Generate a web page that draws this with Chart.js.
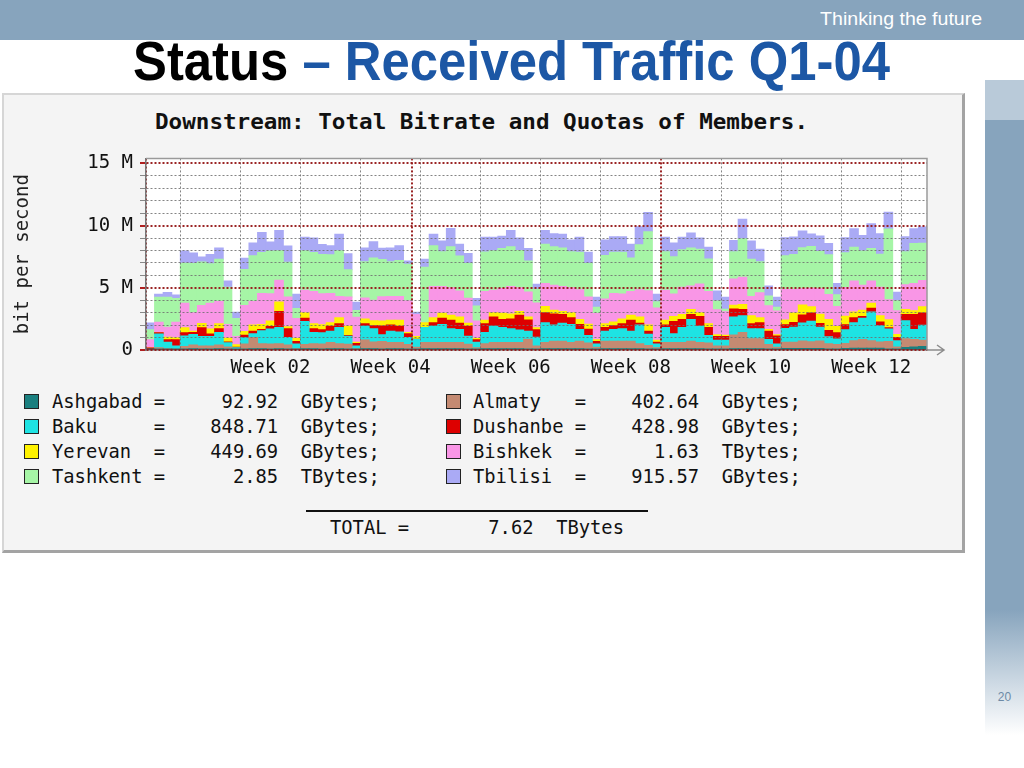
<!DOCTYPE html>
<html>
<head>
<meta charset="utf-8">
<title>Status – Received Traffic Q1-04</title>
<script src="https://cdn.jsdelivr.net/npm/chart.js@4/dist/chart.umd.min.js"></script>
<style>
  body { margin: 0; width: 1024px; height: 768px; background: #fff; position: relative; overflow: hidden; font-family: "Liberation Sans", Arial, sans-serif; }
  #topband { position: absolute; left: 0; top: 0; width: 1024px; height: 40px; background: #87a4bd; }
  #tagline { position: absolute; right: 42px; top: 9px; color: #fff; font-size: 18px; white-space: nowrap; transform-origin: right center; font-family: "Liberation Sans Narrow", "Liberation Sans", Arial, sans-serif; }
  #title { position: absolute; left: 133px; top: 31px; font-size: 55px; font-weight: bold; white-space: nowrap; transform-origin: left top; color: #1c57a5; line-height: 60px;
    font-family: "Liberation Sans Narrow", "Liberation Sans", Arial, sans-serif; }
  #title span { color: #000; }
  #sideband { position: absolute; left: 985px; top: 80px; width: 39px; height: 660px;
    background: linear-gradient(to bottom, #b9cad9 0, #b9cad9 40px, #87a4bd 40px, #87a4bd 530px, #ffffff 655px); }
  #pagenum { position: absolute; left: 985px; width: 39px; top: 690px; text-align: center; font-size: 12px; color: #6d8aa6; }
  #panel { position: absolute; left: 2px; top: 93px; width: 958px; height: 455px; background: #f4f4f4;
    border-top: 2px solid #d6d6d6; border-left: 2px solid #d6d6d6; border-right: 3px solid #a3a3a3; border-bottom: 3px solid #a3a3a3; }
  #charttitle { position: absolute; left: 155px; top: 110px; font: bold 21px "DejaVu Sans Mono", monospace; line-height: 24px; white-space: pre; color: #111; transform-origin: left top; }
  #traffic { position: absolute; left: 0; top: 140px; }
  .sw { position: absolute; width: 13px; height: 13px; border: 1.5px solid #222; }
  .lg { position: absolute; font: 18.8px "DejaVu Sans Mono", monospace; line-height: 22px; white-space: pre; color: #111; }
  #totalline { position: absolute; left: 306px; top: 510px; width: 342px; height: 2px; background: #111; }
</style>
</head>
<body>
<div id="topband"></div>
<div id="tagline">Thinking the future</div>
<div id="title"><span>Status</span> – Received Traffic Q1-04</div>
<div id="sideband"></div>
<div id="pagenum">20</div>
<div id="panel"></div>
<div id="charttitle">Downstream: Total Bitrate and Quotas of Members.</div>
<canvas id="traffic" width="960" height="240"></canvas>
<div id="legend"></div>
<div id="totalline"></div>
<div class="lg" id="totaltext" style="left:330px; top:517px;"></div>

<script>
// ===============================
// DATA (Mbit/s per day, 1 Jan - 31 Mar 2004)
// ===============================
const cityNames = ["Ashgabad", "Almaty", "Baku", "Dushanbe", "Yerevan", "Bishkek", "Tashkent", "Tbilisi"];
const cityColors = ["#1a7f7f", "#c48a72", "#1ee3e3", "#dd0000", "#fff200", "#f996e6", "#a6f5a6", "#aaaaf5"];
const cityTotals = ["92.92", "402.64", "848.71", "428.98", "449.69", "1.63", "2.85", "915.57"];
const cityUnits = ["GBytes", "GBytes", "GBytes", "GBytes", "GBytes", "TBytes", "TBytes", "GBytes"];
const grandTotal = "7.62";
const grandUnit = "TBytes";

const ashgabad = [0.02,0.03,0.03,0.03,0.08,0.1,0.08,0.08,0.1,0.04, 0.03,0.08,0.1,0.1,0.08,0.1,0.06,0.03,0.1,0.1,
  0.08,0.1,0.1,0.06,0.03,0.1,0.1,0.08,0.1,0.1, 0.05,0.03,0.1,0.1,0.1,0.1,0.1,0.06,0.03,0.1,
  0.1,0.1,0.1,0.1,0.06,0.03,0.1,0.1,0.1,0.1, 0.1,0.06,0.03,0.1,0.1,0.1,0.1,0.1,0.06,0.03,
  0.1,0.1,0.1,0.1,0.1,0.06,0.03,0.03,0.1,0.1, 0.1,0.1,0.05,0.03,0.12,0.12,0.12,0.12,0.12,0.06,
  0.04,0.12,0.15,0.15,0.15,0.15,0.08,0.05,0.2,0.25, 0.28];
const almaty = [0,0.15,0.1,0.05,0.2,0.3,0.25,0.25,0.3,0.2, 0.05,0.4,0.9,0.4,0.4,0.4,0.35,0.1,0.35,0.4,
  0.4,0.5,0.4,0.4,0.1,0.7,0.55,0.6,0.5,0.5, 0.4,0.2,0.5,0.5,0.5,0.5,0.5,0.4,0.15,0.4,
  0.5,0.5,0.5,0.5,0.8,0.3,0.5,0.6,0.6,0.5, 0.6,0.5,0.2,0.6,0.6,0.6,0.6,0.4,0.3,0.15,
  0.5,0.5,0.5,0.6,0.5,0.5,0.3,0.3,1.1,1.3, 0.8,0.8,0.4,0.2,0.5,0.5,0.6,0.55,0.6,0.45,
  0.4,0.4,0.6,0.7,0.6,0.5,0.6,0.2,0.7,0.6, 0.5];
const baku = [0,1.1,0.5,0.25,0.85,0.85,0.75,0.75,1.0,0.35, 0.1,0.5,0.3,1.05,1.2,1.3,0.6,0.35,1.85,0.9,
  0.9,0.9,1.3,0.65,0.2,1.1,1.05,0.55,0.9,0.85, 0.55,0.63,1.2,1.3,1.45,1.1,1.05,0.65,0.45,0.9,
  1.3,1.2,1.1,1.0,0.65,0.7,1.6,1.3,1.45,1.45, 0.95,0.6,0.25,0.8,0.95,1.0,0.8,1.5,0.9,0.3,
  1.2,0.7,1.2,1.75,1.3,0.6,0.45,0.45,1.45,1.35, 0.8,0.8,0.4,0.25,1.1,1.2,1.45,1.65,1.1,0.55,
  0.45,1.1,1.45,1.7,2.3,1.3,1.0,0.5,1.45,0.8, 1.2];
const dushanbe = [0.15,0.1,0.2,0.5,0.25,0.15,0.7,0.2,0.3,0.05, 0.05,0.2,0.2,0.1,0.2,1.3,0.7,0.2,0.25,0.3,
  0.25,0.4,0.3,0.05,0.2,0.2,0.25,0.7,0.5,0.45, 0.3,0,0,0.3,0.5,0.7,0.5,0.8,0.2,0.7,
  0.75,0.65,0.8,1.2,0.9,0.6,0.8,0.9,0.7,0.55, 0.4,0.5,0.2,0.3,0.3,0.4,0.9,0.15,0.25,0.15,
  0.2,1.0,0.65,0.4,0.8,0.65,0.3,0.3,0.65,0.5, 0.4,0.5,0.65,0.65,0.3,0.4,0.65,0.65,0.3,0.5,
  0.5,0.4,0.4,0.15,0.3,0.3,0.1,0.25,0.5,1.2, 1.0];
const yerevan = [0,0,0.2,0.15,0.4,0.1,0.35,0.4,0.4,0.3, 0.2,0.3,0.5,0.4,0.45,0.75,0.15,0.25,0.45,0.4,
  0.4,0.3,0.5,0.75,0.1,0.4,0.4,0.4,0.4,0.5, 0.1,0.22,0.4,0.4,0.4,0.4,0.5,0.25,0.1,0.3,
  0.35,0.5,0.4,0.3,0.25,0.15,0.5,0.3,0.25,0.4, 0.4,0.4,0.15,0.3,0.3,0.4,0.4,0.5,0.5,0.15,
  0.4,0.4,0.4,0.4,0.3,0.3,0.15,0.1,0.3,0.4, 0.65,0.4,0.15,0.1,0.4,0.75,0.8,0.5,0.75,0.9,
  0.5,0.7,0.45,0.5,0.4,0.5,0.65,0.25,0.4,0.3, 0.5];
const bishkek = [0.65,0.85,0.8,1.25,1.97,1.5,1.45,2.07,1.8,1.1, 0.65,2.1,1.9,2.5,2.2,1.75,2.4,1.6,1.8,2.6,
  2.5,2.35,1.7,2.35,2.0,1.67,1.65,1.95,1.9,1.9, 2.55,1.78,0,2.5,2.15,2.2,2.1,2.0,1.4,2.3,
  1.8,2.0,2.2,1.9,2.0,2.0,1.85,2.0,2.0,2.0, 2.4,2.2,2.1,2.0,2.3,2.0,1.9,2.2,2.75,2.6,
  2.4,1.8,2.2,1.9,2.3,2.6,2.0,1.9,2.1,2.2, 1.55,2.0,1.9,1.9,2.45,1.9,1.3,1.5,2.05,2.0,
  1.6,2.3,2.5,2.0,1.8,2.3,1.6,1.9,2.0,2.2, 2.1];
const tashkent = [0.8,2.0,2.4,1.9,3.23,3.95,3.5,3.18,3.4,3.0, 1.45,2.9,3.68,3.29,3.42,2.37,2.8,0.8,3.17,3.14,
  3.15,3.11,3.67,2.2,0.55,2.93,3.4,3.0,2.8,2.9, 2.95,0,4.46,3.27,2.8,3.3,2.8,2.8,1.2,3.17,
  3.17,3.2,3.2,3.0,2.5,1.1,3.15,3.1,3.1,2.9, 3.0,2.7,0.5,3.5,3.3,3.35,2.7,3.6,4.75,0.5,
  3.1,3.0,3.0,3.05,2.8,2.6,0.7,0.2,2.2,3.1, 3.0,2.5,0.8,0.3,2.7,2.8,3.3,3.35,3.0,3.2,
  0.95,2.8,2.7,2.75,2.6,2.65,5.7,0.8,2.65,3.2, 3.0];
const tbilisi = [0.55,0.26,0.4,0.3,0.97,0.85,0.4,0.75,0.9,0.5, 0.5,0.9,1.02,1.61,0.73,1.63,1.3,1.16,1.1,1.16,
  0.8,0.71,1.33,1.27,0.65,1.1,1.3,0.9,1.1,1.17, 0.25,0.17,0.64,0.93,0.86,1.46,0.95,0.8,0.6,1.2,
  1.1,1.0,1.3,1.0,1.0,0.4,1.1,1.04,1.1,0.95, 1.22,0.9,0.8,1.25,1.25,1.25,1.1,1.45,1.55,0.61,
  1.17,1.1,1.02,1.2,0.9,0.95,0.82,0.95,0.9,1.55, 1.46,1.0,0.8,0.8,1.45,1.42,1.35,1.0,1.25,0.9,
  0.9,1.2,1.5,1.25,2.0,1.65,1.35,0.7,1.2,1.2, 1.3];

const citySeries = [ashgabad, almaty, baku, dushanbe, yerevan, bishkek, tashkent, tbilisi];

// x axis: one category per day, week labels and grid lines
const monthNames = ["Jan", "Feb", "Mar"];
const monthLengths = [31, 29, 31];
const weekTickLabels = ["Week 02", "Week 04", "Week 06", "Week 08", "Week 10", "Week 12"];
const weekTickDays = [14, 28, 42, 56, 70, 84];
const weekLineDays = [4, 11, 18, 25, 32, 39, 46, 53, 60, 67, 74, 81, 88];
const monthLineDays = [0, 31, 60];

// y axis
const yMax = 15.4;
const yMajorStep = 5;

let dayLabels = [];
monthNames.forEach((m, k) => {
    for (let d = 1; d <= monthLengths[k]; d++) dayLabels.push(m + " " + d);
});

// ===============================
// SLIDE TEXT FITTING
// ===============================
function fitWidth(id, target) {
    const el = document.getElementById(id);
    const w = el.getBoundingClientRect().width;
    el.style.transform = "scaleX(" + (target / w) + ")";
}
fitWidth("title", 757);
fitWidth("tagline", 162);
fitWidth("charttitle", 653);

// ===============================
// LEGEND
// ===============================
const legend = document.getElementById("legend");
cityNames.forEach((name, i) => {
    const row = Math.floor(i / 2);
    const col = i % 2;
    const cy = 402 + row * 25;

    const sw = document.createElement("div");
    sw.className = "sw";
    sw.style.left = (col ? 446 : 24) + "px";
    sw.style.top = (cy - 8) + "px";
    sw.style.background = cityColors[i];
    legend.appendChild(sw);

    const txt = document.createElement("div");
    txt.className = "lg";
    txt.style.left = (col ? 473 : 52) + "px";
    txt.style.top = (cy - 11) + "px";
    txt.textContent = name.padEnd(8) + " =" + cityTotals[i].padStart(10) + "  " + cityUnits[i] + ";";
    legend.appendChild(txt);
});
document.getElementById("totaltext").textContent = "TOTAL =" + grandTotal.padStart(11) + "  " + grandUnit;

// ===============================
// CHART
// ===============================
const monoFont = "'DejaVu Sans Mono', monospace";

const plotFrame = {
    id: "plotFrame",
    beforeDraw(chart) {
        const { ctx, chartArea: a } = chart;
        ctx.save();
        ctx.fillStyle = "#ffffff";
        ctx.fillRect(a.left, a.top, a.right - a.left, a.bottom - a.top);
        ctx.restore();
    },
    afterDraw(chart) {
        const { ctx, chartArea: a } = chart;
        ctx.save();
        ctx.strokeStyle = "#9a9a9a";
        ctx.lineWidth = 1.5;
        ctx.beginPath();
        ctx.moveTo(a.left, a.top);
        ctx.lineTo(a.right, a.top);
        ctx.lineTo(a.right, a.bottom);
        ctx.stroke();
        // arrow at the end of the time axis
        ctx.strokeStyle = "#8c8c8c";
        ctx.beginPath();
        ctx.moveTo(a.right, a.bottom);
        ctx.lineTo(a.right + 17, a.bottom);
        ctx.moveTo(a.right + 10, a.bottom - 5);
        ctx.lineTo(a.right + 17, a.bottom);
        ctx.lineTo(a.right + 10, a.bottom + 5);
        ctx.stroke();
        ctx.restore();
    }
};

const isMajorY = c => c.tick && c.tick.value % yMajorStep === 0;

new Chart(document.getElementById("traffic"), {
    type: "bar",
    data: {
        labels: dayLabels,
        datasets: cityNames.map((name, i) => ({
            label: name,
            data: citySeries[i],
            backgroundColor: cityColors[i],
            borderWidth: 0,
            barPercentage: 1,
            categoryPercentage: 1,
            inflateAmount: 0.5
        }))
    },
    options: {
        responsive: false,
        animation: false,
        layout: { padding: { left: 8, top: 15, right: 33, bottom: 0 } },
        plugins: {
            legend: { display: false },
            tooltip: { enabled: false },
            title: { display: false }
        },
        scales: {
            x: {
                stacked: true,
                offset: true,
                grid: {
                    z: 1,
                    offset: true,
                    drawTicks: false,
                    color: c => monthLineDays.includes(c.index) ? "rgba(150,25,25,0.95)"
                        : weekLineDays.includes(c.index) ? "rgba(110,110,110,0.85)" : "rgba(0,0,0,0)",
                    lineWidth: c => monthLineDays.includes(c.index) ? 2 : 1
                },
                border: { display: true, color: "#555", width: 1.5, dash: [2, 2], z: 1 },
                ticks: {
                    autoSkip: false,
                    maxRotation: 0,
                    minRotation: 0,
                    padding: 7,
                    color: "#111",
                    font: { family: monoFont, size: 19 },
                    callback: (v, i) => {
                        const k = weekTickDays.indexOf(i);
                        return k >= 0 ? weekTickLabels[k] : "";
                    }
                },
                afterFit: s => { s.height = 30; }
            },
            y: {
                stacked: true,
                min: 0,
                max: yMax,
                grid: {
                    z: 1,
                    color: c => isMajorY(c) ? "rgba(150,25,25,0.95)" : "rgba(110,110,110,0.85)",
                    lineWidth: c => isMajorY(c) ? 2 : 1,
                    tickLength: 6,
                    tickColor: c => isMajorY(c) ? "#b02020" : "#888",
                    tickWidth: c => isMajorY(c) ? 2 : 1
                },
                border: { display: true, color: "#777", width: 1.5, dash: [2, 2], z: 1 },
                ticks: {
                    stepSize: 1,
                    includeBounds: false,
                    autoSkip: false,
                    padding: 7,
                    color: "#111",
                    font: { family: monoFont, size: 19 },
                    callback: v => v % yMajorStep === 0 ? (v === 0 ? "0" : v + " M") : ""
                },
                title: {
                    display: true,
                    text: "bit per second",
                    color: "#222",
                    font: { family: monoFont, size: 19 },
                    padding: { top: 4, bottom: 4 }
                },
                afterFit: s => { s.width = 138; }
            }
        }
    },
    plugins: [plotFrame]
});
</script>
</body>
</html>
